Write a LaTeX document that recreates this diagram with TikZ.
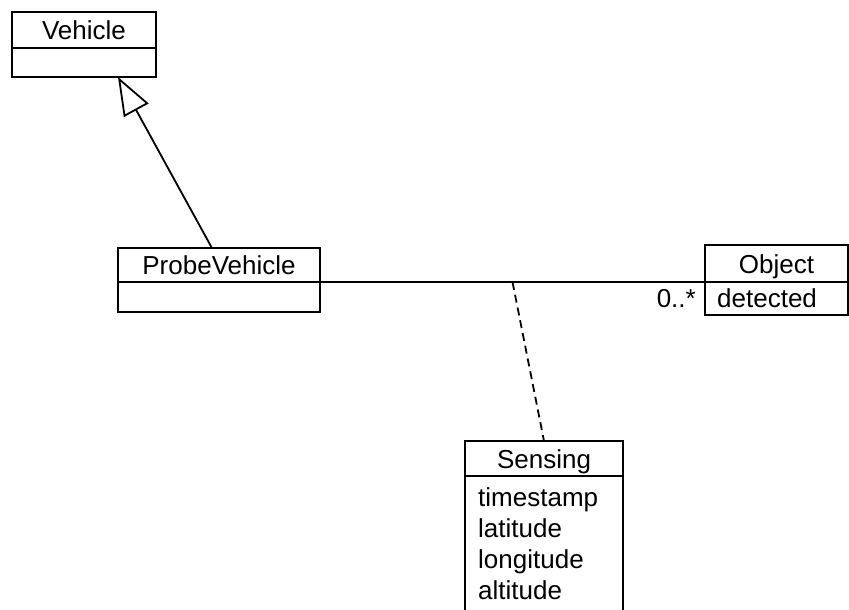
\documentclass[tikz,border=0pt]{standalone}
\usepackage{fontspec}
\setmainfont{Liberation Sans}
\usetikzlibrary{arrows.meta,calc}
\begin{document}
\begin{tikzpicture}[x=1pt,y=-1pt,
  every node/.style={font=\fontsize{26}{31}\selectfont},
  cls/.style={draw,line width=1.9pt,inner sep=0pt,outer sep=0pt,anchor=north west,text height=19pt,text depth=0pt},
  attr/.style={inner sep=0pt,anchor=base west},
  link/.style={line width=1.8pt},
]
\useasboundingbox (0,0) rectangle (849,610);
\clip (0,0) rectangle (849,610);
% Vehicle
\node[cls,minimum width=144pt,minimum height=36pt] (vehH) at (12,12) {Vehicle};
\node[cls,minimum width=144pt,minimum height=29pt] (vehB) at (vehH.south west) {};
% ProbeVehicle
\node[cls,minimum width=202pt,minimum height=34pt] (pvH) at (118,248) {ProbeVehicle};
\node[cls,minimum width=202pt,minimum height=30pt] (pvB) at (pvH.south west) {};
% Object
\node[cls,minimum width=143pt,minimum height=37pt] (objH) at (705,245) {Object};
\node[cls,minimum width=143pt,minimum height=33pt] (objB) at (objH.south west) {};
\node[attr] (det) at (717,307) {detected};
% Sensing
\node[cls,minimum width=158pt,minimum height=35pt] (senH) at (465,441) {Sensing};
\node[cls,minimum width=158pt,minimum height=140pt] (senB) at (senH.south west) {};
\node[attr] (a1) at (478,506) {timestamp};
\node[attr] (a2) at (478,537) {latitude};
\node[attr] (a3) at (478,568) {longitude};
\node[attr] (a4) at (478,599) {altitude};
% multiplicity
\node[inner sep=0pt,anchor=base east] (mult) at (696,307) {0..*};
% association
\draw[link] (pvH.south east) -- coordinate[pos=0.5] (assoc) (objH.south west);
\draw[link,dash pattern=on 8pt off 5pt] (assoc) -- (senH.north);
% generalization
\coordinate (gs) at ($(pvH.north west)!0.465!(pvH.north east)$);
\coordinate (gt) at ($(vehB.south west)!0.736!(vehB.south east)$);
\draw[link,-{Triangle[open,length=38pt,width=28pt,line width=1.8pt]}] (gs) -- (gt);
\end{tikzpicture}
\end{document}
